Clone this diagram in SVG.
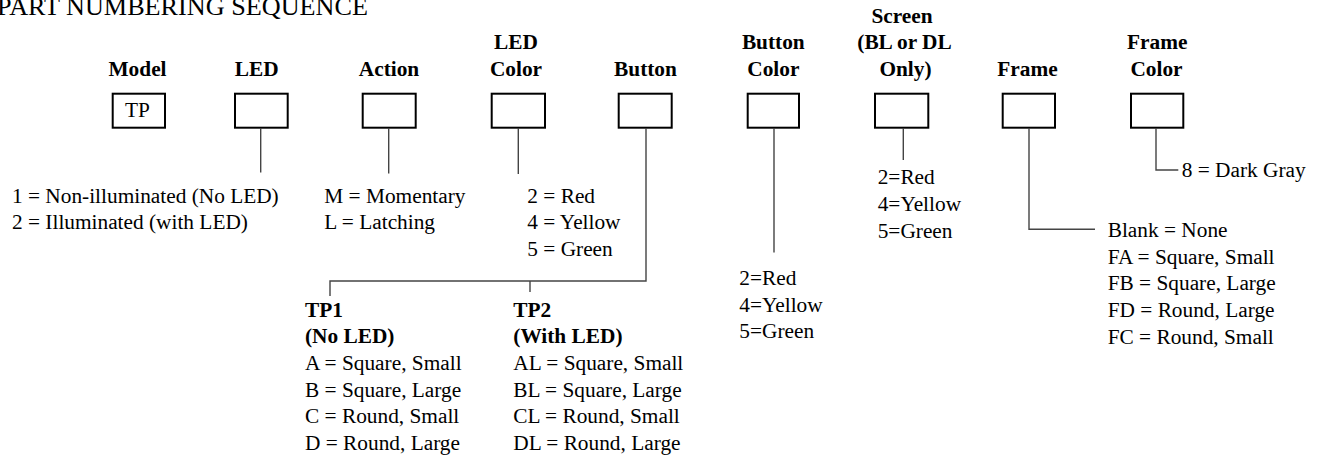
<svg xmlns="http://www.w3.org/2000/svg" width="1321" height="458" viewBox="0 0 1321 458" font-family="'Liberation Serif','Times New Roman',serif">
<style>
text{font-family:"Liberation Serif","Times New Roman",serif;fill:#000}
.t{font-size:26.2px}
.h{font-size:21.33px;font-weight:bold;text-anchor:middle}
.b{font-size:21.33px}
.hb{font-size:21.33px;font-weight:bold}
.box{fill:#fff;stroke:#000;stroke-width:2}
.ln{fill:none;stroke:#444;stroke-width:1.4}
</style>
<rect width="1321" height="458" fill="#fff"/>
<text class="t" x="-3" y="15">PART NUMBERING SEQUENCE</text>

<g id="connectors">
<path class="ln" d="M260.7 128.7V172.5"/>
<path class="ln" d="M388.7 128.7V173.5"/>
<path class="ln" d="M518.3 128.7V174"/>
<path class="ln" d="M646 128.7V281H330V296"/>
<path class="ln" d="M530 281V292"/>
<path class="ln" d="M774 128.7V252.5"/>
<path class="ln" d="M903.3 128.7V160"/>
<path class="ln" d="M1029 128.7V229.3H1095"/>
<path class="ln" d="M1156 128.7V170H1178.3"/>
</g>

<g id="model">
<text class="h" x="137.5" y="76">Model</text>
<rect class="box" x="112.7" y="93.7" width="52.3" height="34"/>
<text class="b" x="137.5" y="116.7" text-anchor="middle">TP</text>
</g>

<g id="led">
<text class="h" x="256.7" y="76">LED</text>
<rect class="box" x="235" y="93.7" width="52.7" height="34"/>
<text class="b" x="12" y="202.7">1 = Non-illuminated (No LED)</text>
<text class="b" x="12" y="229.3">2 = Illuminated (with LED)</text>
</g>

<g id="action">
<text class="h" x="389" y="76">Action</text>
<rect class="box" x="362.7" y="93.7" width="53" height="34"/>
<text class="b" x="324.3" y="202.7">M = Momentary</text>
<text class="b" x="324.3" y="229.3">L = Latching</text>
</g>

<g id="led-color">
<text class="h" x="516" y="49.3">LED</text>
<text class="h" x="516" y="76">Color</text>
<rect class="box" x="491.7" y="93.7" width="53.3" height="34"/>
<text class="b" x="527.3" y="202.7">2 = Red</text>
<text class="b" x="527.3" y="229.3">4 = Yellow</text>
<text class="b" x="527.3" y="256">5 = Green</text>
</g>

<g id="button">
<text class="h" x="645.5" y="76">Button</text>
<rect class="box" x="618.7" y="93.7" width="53" height="34"/>
</g>

<g id="tp1">
<text class="hb" x="305" y="316.7">TP1</text>
<text class="hb" x="305" y="343.3">(No LED)</text>
<text class="b" x="305" y="370">A = Square, Small</text>
<text class="b" x="305" y="396.7">B = Square, Large</text>
<text class="b" x="305" y="423.3">C = Round, Small</text>
<text class="b" x="305" y="450">D = Round, Large</text>
</g>

<g id="tp2">
<text class="hb" x="513.3" y="316.7">TP2</text>
<text class="hb" x="513.3" y="343.3">(With LED)</text>
<text class="b" x="513.3" y="370">AL = Square, Small</text>
<text class="b" x="513.3" y="396.7">BL = Square, Large</text>
<text class="b" x="513.3" y="423.3">CL = Round, Small</text>
<text class="b" x="513.3" y="450">DL = Round, Large</text>
</g>

<g id="button-color">
<text class="h" x="773.3" y="49.3">Button</text>
<text class="h" x="773.3" y="76">Color</text>
<rect class="box" x="747.7" y="93.7" width="51.3" height="34"/>
<text class="b" x="739.3" y="285">2=Red</text>
<text class="b" x="739.3" y="311.7">4=Yellow</text>
<text class="b" x="739.3" y="338.3">5=Green</text>
</g>

<g id="screen">
<text class="h" x="902" y="22.7">Screen</text>
<text class="h" x="904.5" y="49.3">(BL or DL</text>
<text class="h" x="905.5" y="76">Only)</text>
<rect class="box" x="875" y="93.7" width="53.3" height="34"/>
<text class="b" x="877.7" y="184.3">2=Red</text>
<text class="b" x="877.7" y="211">4=Yellow</text>
<text class="b" x="877.7" y="237.7">5=Green</text>
</g>

<g id="frame">
<text class="h" x="1027.5" y="76">Frame</text>
<rect class="box" x="1002.7" y="93.7" width="52.3" height="34"/>
<text class="b" x="1107.7" y="237">Blank = None</text>
<text class="b" x="1107.7" y="263.7">FA = Square, Small</text>
<text class="b" x="1107.7" y="290.3">FB = Square, Large</text>
<text class="b" x="1107.7" y="317">FD = Round, Large</text>
<text class="b" x="1107.7" y="343.7">FC = Round, Small</text>
</g>

<g id="frame-color">
<text class="h" x="1157.3" y="49.3">Frame</text>
<text class="h" x="1156.5" y="76">Color</text>
<rect class="box" x="1131" y="93.7" width="52.3" height="34"/>
<text class="b" x="1181.7" y="177">8 = Dark Gray</text>
</g>
</svg>
